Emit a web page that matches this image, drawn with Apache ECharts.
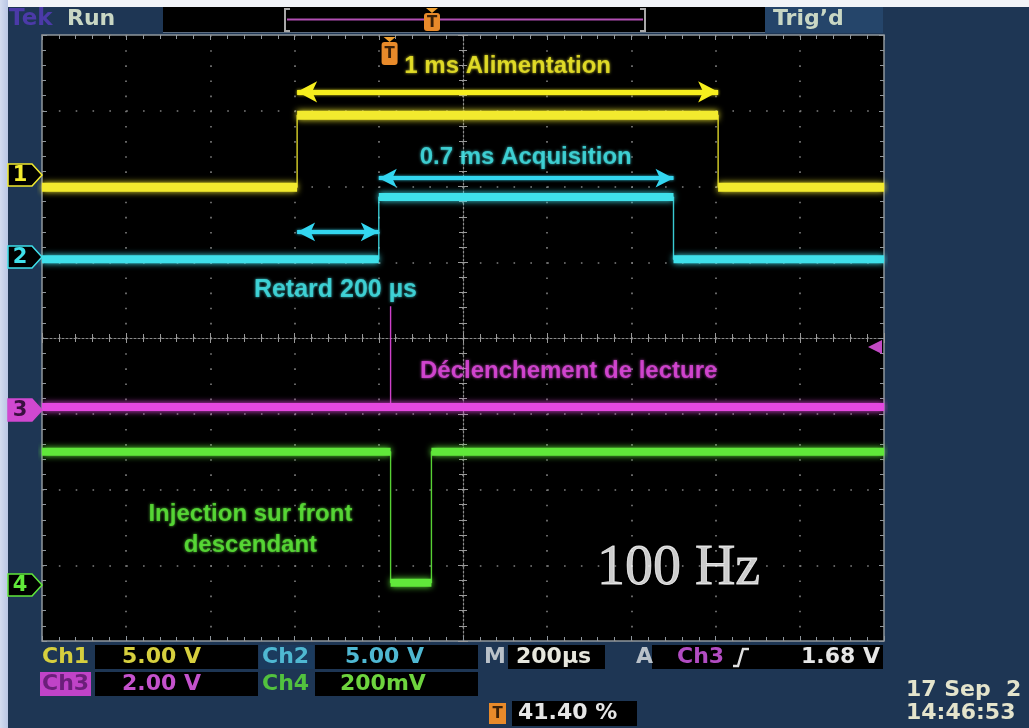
<!DOCTYPE html>
<html>
<head>
<meta charset="utf-8">
<script src="https://cdn.jsdelivr.net/npm/echarts@6/dist/echarts.min.js"></script>
<style>
  html, body { margin: 0; padding: 0; background: #1e3654; }
  #scope { width: 1029px; height: 728px; }
</style>
</head>
<body>
<div id="scope"></div>
<script>
// Four-channel scope capture, 200 µs/div over 10 divisions, 8 vertical divisions.
// Levels are expressed in screen divisions from the graticule centre.
const ch1TimeUs = [0, 606, 606, 1606, 1606, 2000];
const ch1Div    = [1.99, 1.99, 2.94, 2.94, 1.99, 1.99];
const ch2TimeUs = [0, 800, 800, 1500, 1500, 2000];
const ch2Div    = [1.04, 1.04, 1.86, 1.86, 1.04, 1.04];
const ch3TimeUs = [0, 828, 828, 828, 2000];
const ch3Div    = [-0.91, -0.91, 0.42, -0.91, -0.91];
const ch4TimeUs = [0, 828, 828, 925, 925, 2000];
const ch4Div    = [-1.50, -1.50, -3.23, -3.23, -1.50, -1.50];

// Time spans marked with double arrows
const alimSpanUs  = [606, 1606];
const acqSpanUs   = [800, 1500];
const delaySpanUs = [606, 800];
const triggerUs   = 828;

// Annotation texts
const noteAlim  = '1 ms Alimentation';
const noteAcq   = '0.7 ms Acquisition';
const noteDelay = 'Retard 200 µs';
const noteTrig  = 'Déclenchement de lecture';
const noteInj   = 'Injection sur front\ndescendant';
const noteFreq  = '100 Hz';

// Readout texts
const chScales  = ['5.00 V', '5.00 V', '2.00 V', '200mV'];
const timebase  = '200µs';
const trigLevel = '1.68 V';
const trigPos   = '41.40 %';
const stampDate = '17 Sep  2';
const stampTime = '14:46:53';

const C = {
  yellow: '#f2ea2e', cyan: '#3fe0ea', magenta: '#e448e0', green: '#60e83a',
  grid: '#7f7f7f', frame: '#8f969c', navy: '#1e3654'
};

function toPairs(ts, vs) { return ts.map((t, i) => [t, vs[i]]); }
// horizontal runs only (thick noisy bands); edges are drawn thin separately
function flatRuns(ts, vs) {
  const out = [];
  for (let i = 0; i < ts.length - 1; i++) {
    if (ts[i] !== ts[i + 1]) {
      out.push([ts[i], vs[i]], [ts[i + 1], vs[i + 1]], [ts[i + 1], '-']);
    }
  }
  return out;
}

function traceSeries(ts, vs, color, band) {
  return [
    { type: 'line', xAxisIndex: 0, yAxisIndex: 0, data: toPairs(ts, vs),
      showSymbol: false, silent: true, z: 3,
      lineStyle: { color: color, width: 1.4, opacity: 0.9 } },
    { type: 'line', xAxisIndex: 0, yAxisIndex: 0, data: flatRuns(ts, vs),
      showSymbol: false, silent: true, connectNulls: false, z: 4,
      lineStyle: { color: color, width: band, shadowColor: color, shadowBlur: 6, cap: 'butt' } }
  ];
}

function spanArrow(span, level) {
  return [{ coord: [span[0], level] }, { coord: [span[1], level] }];
}

const dotsV = [1.6, 13.55];   // dots every fifth of a vertical division
const dotsH = [1.6, 15.24];   // dots every fifth of a horizontal division

const gridRect = { left: 42, top: 35, width: 842, height: 606 };

function edgeAxis(kind, pos, extra) {
  return Object.assign({
    type: 'value', gridIndex: 0, position: pos,
    axisLine: { show: false, onZero: false },
    axisTick: { show: true, inside: true, length: 5, lineStyle: { color: C.frame, width: 1 } },
    minorTick: { show: true, splitNumber: 5, length: 4, lineStyle: { color: C.frame, width: 1 } },
    axisLabel: { show: false },
    splitLine: { show: false }
  }, kind === 'x' ? { min: 0, max: 2000, interval: 200 } : { min: -4, max: 4, interval: 1 }, extra || {});
}

function centreAxis(kind, gi, inside, showLine) {
  return Object.assign({
    type: 'value', gridIndex: gi,
    axisLine: { show: showLine, onZero: true, lineStyle: { color: '#8a8a8a', width: 1.2, type: [2, 2] } },
    axisTick: { show: true, inside: inside, length: 5, lineStyle: { color: '#9a9a9a', width: 1 } },
    minorTick: { show: true, splitNumber: 5, length: 4, lineStyle: { color: '#9a9a9a', width: 1 } },
    axisLabel: { show: false },
    splitLine: { show: false }
  }, kind === 'x' ? { min: -1000, max: 1000, interval: 200 } : { min: -4, max: 4, interval: 1 });
}

const noteFont = { fontFamily: 'Liberation Sans', fontWeight: 'bold', fontSize: 24 };
function note(t, v, text, color, extra) {
  return {
    value: [t, v],
    label: Object.assign({
      show: true, position: 'inside', formatter: text, color: color, align: 'center',
      textBorderWidth: 0, textBorderColor: 'transparent',
      textShadowColor: color, textShadowBlur: 3
    }, noteFont, extra || {})
  };
}

const readFont = 'bold 22px "DejaVu Sans"';
function txt(x, y, text, fill, font, align, z) {
  return { type: 'text', z: z || 20, style: { x: x, y: y, text: text, fill: fill, font: font || readFont,
    textAlign: align || 'left', textVerticalAlign: 'middle', verticalAlign: 'middle' } };
}
function box(x, y, w, h, fill, z) {
  return { type: 'rect', z: z == null ? 10 : z, shape: { x: x, y: y, width: w, height: h }, style: { fill: fill } };
}
function chMarker(cy, label, stroke, fill, textFill) {
  return [
    { type: 'polygon', z: 20, shape: { points: [[8, cy - 11], [32, cy - 11], [42, cy], [32, cy + 11], [8, cy + 11]] },
      style: { fill: fill, stroke: stroke, lineWidth: 1.5 } },
    txt(20, cy + 1, label, textFill, 'bold 21px "DejaVu Sans"', 'center')
  ];
}
function tIcon(cx, top, h) {
  return [
    { type: 'polygon', z: 30, shape: { points: [[cx - 6, top], [cx + 6, top], [cx, top + 5]] }, style: { fill: '#f0a030' } },
    { type: 'rect', z: 30, shape: { x: cx - 8, y: top + 5, width: 16, height: h - 5, r: 3 }, style: { fill: '#e88a2a' } },
    txt(cx, top + 5 + (h - 5) / 2 + 1, 'T', '#3a2008', 'bold 15px "DejaVu Sans"', 'center', 31)
  ];
}

const chrome = [
  box(0, 0, 1029, 7, '#f2f4f8', 1),
  { type: 'rect', z: 1, shape: { x: 0, y: 0, width: 8, height: 728 },
    style: { fill: new echarts.graphic.LinearGradient(0, 0, 1, 0, [
      { offset: 0, color: '#d3dcf0' }, { offset: 1, color: '#b9c6e4' }]) } },
  // status bar
  box(163, 7, 602, 26, '#000000'),
  { type: 'line', z: 11, shape: { x1: 163, y1: 32.5, x2: 765, y2: 32.5 }, style: { stroke: '#5d6d80', lineWidth: 1 } },
  box(765, 7, 118, 26, '#25456a'),
  txt(9, 19, 'Tek', '#4b3aa8', 'bold 23px "DejaVu Sans"'),
  txt(67, 19, 'Run', '#c9d7c4', readFont),
  txt(773, 19, 'Trig\u2019d', '#c9d7c4', readFont),
  { type: 'polyline', z: 12, shape: { points: [[290, 9], [285, 9], [285, 31], [290, 31]] }, style: { stroke: '#a8a8a8', lineWidth: 2, fill: null } },
  { type: 'polyline', z: 12, shape: { points: [[640, 9], [645, 9], [645, 31], [640, 31]] }, style: { stroke: '#a8a8a8', lineWidth: 2, fill: null } },
  { type: 'line', z: 11, shape: { x1: 287, y1: 19.5, x2: 643, y2: 19.5 }, style: { stroke: '#b14fb3', lineWidth: 2 } },
  // trigger level pointer on the right edge
  { type: 'polygon', z: 20, shape: { points: [[868, 347], [882, 340], [882, 354]] }, style: { fill: '#c24ac4' } },
  // readouts, row 1
  txt(42, 657, 'Ch1', '#d6cf3e'),
  box(95, 645, 163, 24, '#000'), txt(122, 657, chScales[0], '#d6cf3e'),
  box(259, 645, 55, 24, '#1b3b5e', 9), txt(262, 657, 'Ch2', '#4fb8d2'),
  box(315, 645, 163, 24, '#000'), txt(345, 657, chScales[1], '#4fb8d2'),
  txt(484, 657, 'M', '#b9c1c9'),
  box(508, 645, 97, 24, '#000'), txt(516, 657, timebase, '#e6e6dc'),
  txt(636, 657, 'A', '#b9c1c9'),
  box(652, 645, 231, 24, '#000'), txt(677, 657, 'Ch3', '#b24cc2'),
  { type: 'polyline', z: 21, shape: { points: [[733, 666], [738, 666], [743, 649], [749, 649]] }, style: { stroke: '#e0e0e0', lineWidth: 2.5, fill: null } },
  txt(880, 657, trigLevel, '#e6e6e6', readFont, 'right'),
  // readouts, row 2
  box(40, 672, 51, 24, '#c043c8', 11), txt(42, 684, 'Ch3', '#6b1f7a'),
  box(95, 672, 163, 24, '#000'), txt(122, 684, chScales[2], '#c452cc'),
  txt(262, 684, 'Ch4', '#52c23e'),
  box(315, 672, 163, 24, '#000'), txt(340, 684, chScales[3], '#6ed43e'),
  // readouts, row 3
  box(489, 703, 17, 21, '#e88a2a', 11), txt(497.5, 714, 'T', '#3a2008', 'bold 15px "DejaVu Sans"', 'center'),
  box(512, 701, 125, 25, '#000'), txt(518, 713, trigPos, '#e6e6e6'),
  txt(906, 690, stampDate, '#e4e4cc'),
  txt(906, 713, stampTime, '#e4e4cc')
].concat(
  tIcon(432, 8, 23),
  chMarker(175, '1', C.yellow, '#000', C.yellow),
  chMarker(257, '2', C.cyan, '#000', C.cyan),
  chMarker(410, '3', '#d048d0', '#d048d0', '#3a1040'),
  chMarker(585, '4', C.green, '#000', C.green)
);

const option = {
  animation: false,
  backgroundColor: C.navy,
  grid: [
    Object.assign({ show: true, backgroundColor: '#000', borderColor: C.frame, borderWidth: 1.5 }, gridRect),
    Object.assign({ show: false }, gridRect),
    Object.assign({ show: false }, gridRect)
  ],
  xAxis: [
    edgeAxis('x', 'bottom', { splitLine: { show: true, lineStyle: { color: C.grid, width: 1.6, type: dotsV } } }),
    edgeAxis('x', 'top'),
    centreAxis('x', 1, true, true),
    centreAxis('x', 2, false, false)
  ],
  yAxis: [
    edgeAxis('y', 'left', { splitLine: { show: true, lineStyle: { color: C.grid, width: 1.6, type: dotsH } } }),
    edgeAxis('y', 'right'),
    centreAxis('y', 1, true, true),
    centreAxis('y', 2, false, false)
  ],
  series: [].concat(
    traceSeries(ch1TimeUs, ch1Div, C.yellow, 9),
    traceSeries(ch2TimeUs, ch2Div, C.cyan, 8),
    traceSeries(ch3TimeUs, ch3Div, C.magenta, 8),
    traceSeries(ch4TimeUs, ch4Div, C.green, 8),
    [
      { type: 'line', xAxisIndex: 0, yAxisIndex: 0, data: [], silent: true, z: 6,
        markLine: {
          silent: true, symbol: ['arrow', 'arrow'], symbolSize: [16, 20], label: { show: false },
          animation: false,
          data: [spanArrow(alimSpanUs, 3.25)],
          lineStyle: { color: '#f6ee1e', width: 5, type: 'solid', shadowColor: '#f6ee1e', shadowBlur: 3 }
        } },
      { type: 'line', xAxisIndex: 0, yAxisIndex: 0, data: [], silent: true, z: 6,
        markLine: {
          silent: true, symbol: ['arrow', 'arrow'], symbolSize: [14, 18], label: { show: false },
          animation: false,
          data: [spanArrow(acqSpanUs, 2.11), spanArrow(delaySpanUs, 1.40)],
          lineStyle: { color: '#33d6f0', width: 4, type: 'solid', shadowColor: '#33d6f0', shadowBlur: 3 }
        } },
      { type: 'scatter', xAxisIndex: 0, yAxisIndex: 0, symbolSize: 1, silent: true, z: 8,
        itemStyle: { color: 'rgba(0,0,0,0)' },
        data: [
          note(1106, 3.58, noteAlim, '#f4ee2a'),
          note(1149, 2.39, noteAcq, '#44e2e6'),
          note(697, 0.63, noteDelay, '#44e2e6', { fontSize: 25 }),
          note(1251, -0.44, noteTrig, '#e24ae0'),
          note(495, -2.53, noteInj, '#5ee83a', { lineHeight: 31 }),
          note(1512, -3.06, noteFreq, '#ffffff', { fontFamily: 'Liberation Serif', fontWeight: 'normal', fontSize: 56,
            textShadowBlur: 0, textShadowColor: 'transparent', textBorderColor: '#ffffff', textBorderWidth: 0.8 })
        ] }
    ]
  ),
  graphic: chrome
};

const chart = echarts.init(document.getElementById('scope'), null, { renderer: 'canvas' });
chart.setOption(option);

// trigger position marker at the top of the graticule
const tx = chart.convertToPixel({ xAxisIndex: 0 }, triggerUs);
chart.setOption({ graphic: chrome.concat(tIcon(tx - 1, 37, 28)) });
</script>
</body>
</html>
